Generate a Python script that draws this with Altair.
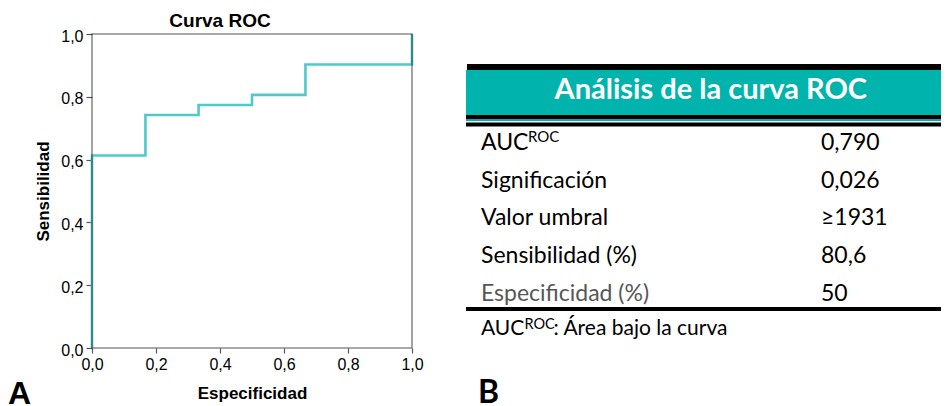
import altair as alt
import pandas as pd

# ---------------- data ----------------
roc_x = [0.0, 0.0, 0.167, 0.167, 0.333, 0.333, 0.5, 0.5, 0.667, 0.667, 1.0, 1.0]
roc_y = [0.0, 0.613, 0.613, 0.742, 0.742, 0.774, 0.774, 0.806, 0.806, 0.903, 0.903, 1.0]
tick_values = [0.0, 0.2, 0.4, 0.6, 0.8, 1.0]

chart_title = "Curva ROC"
table_title = "Análisis de la curva ROC"
row_labels = ["AUC", "Significación", "Valor umbral", "Sensibilidad (%)", "Especificidad (%)"]
row_values = ["0,790", "0,026", "≥1931", "80,6", "50"]
footnote = ": Área bajo la curva"
panel_labels = ["A", "B"]

# ---------------- left panel: ROC ----------------
W, H = 320, 314
ARIAL = "Liberation Sans"
FONT = "Lato"

roc = pd.DataFrame({"x": roc_x, "y": roc_y, "i": list(range(len(roc_x)))})
one = pd.DataFrame({"k": [0]})

xsc = alt.Scale(domain=[0, 1], nice=False, zero=False)
ysc = alt.Scale(domain=[0, 1], nice=False, zero=False)
lab = "replace(format(datum.value, '.1f'), '.', ',')"

line = alt.Chart(roc).mark_line(color="#52C9C9", strokeWidth=2.6, interpolate="linear").encode(
    x=alt.X("x:Q", scale=xsc, title="Especificidad",
            axis=alt.Axis(values=tick_values, labelExpr=lab, grid=False, domain=False,
                          labelFlush=False,
                          tickSize=5, tickColor="#555", tickWidth=1.2,
                          labelFont=ARIAL, labelFontSize=16, labelColor="black", labelPadding=3,
                          titleFont=ARIAL, titleFontSize=17, titleFontWeight="bold",
                          titleColor="black", titlePadding=13)),
    y=alt.Y("y:Q", scale=ysc, title="Sensibilidad",
            axis=alt.Axis(values=tick_values, labelExpr=lab, grid=False, domain=False,
                          labelFlush=False, labelOffset=2,
                          tickSize=6, tickColor="#555", tickWidth=1.2,
                          labelFont=ARIAL, labelFontSize=16, labelColor="black", labelPadding=3,
                          titleFont=ARIAL, titleFontSize=17, titleFontWeight="bold",
                          titleColor="black", titlePadding=8)),
    order="i:Q",
)

frame = alt.Chart(one).mark_rect(fillOpacity=0, stroke="#1a1a1a", strokeOpacity=0.5,
                                 strokeWidth=1.6).encode(
    x=alt.XDatum(0, scale=xsc), x2=alt.X2Datum(1),
    y=alt.YDatum(0, scale=ysc), y2=alt.Y2Datum(1),
)

title_txt = alt.Chart(one).mark_text(text=chart_title, font=ARIAL, fontSize=19, fontWeight="bold",
                                     align="center", baseline="alphabetic", color="black").encode(
    x=alt.value(128), y=alt.value(-7),
)

label_a = alt.Chart(one).mark_text(text=panel_labels[0], font=ARIAL, fontSize=32, fontWeight="bold",
                                   align="left", baseline="alphabetic", color="black").encode(
    x=alt.value(-84), y=alt.value(370),
)

left = alt.layer(line, frame, title_txt, label_a).properties(width=W, height=H)

# ---------------- right panel: table ----------------
TW = 475
tx = alt.Scale(domain=[0, TW], nice=False, zero=False)
ty = alt.Scale(domain=[-3.077, 5.252], nice=False, zero=False, reverse=True)


def band(y0, y1, color, x0=0, x1=TW):
    return alt.Chart(one).mark_rect(color=color).encode(
        x=alt.XDatum(x0, scale=tx, axis=None), x2=alt.X2Datum(x1),
        y=alt.YDatum(y0, scale=ty, axis=None), y2=alt.Y2Datum(y1),
    )


def txt(s, x, y, size=23, weight="normal", color="black", align="left"):
    return alt.Chart(one).mark_text(text=s, font=FONT, fontSize=size, fontWeight=weight,
                                    color=color, align=align, baseline="alphabetic").encode(
        x=alt.XDatum(x, scale=tx, axis=None), y=alt.YDatum(y, scale=ty, axis=None),
    )


rows = pd.DataFrame({
    "r": list(range(len(row_labels))),
    "label": row_labels,
    "value": row_values,
    "c": ["black", "black", "black", "black", "#575757"],
})

row_lab = alt.Chart(rows).mark_text(font=FONT, fontSize=23, align="left", baseline="alphabetic").encode(
    x=alt.XDatum(15, scale=tx, axis=None),
    y=alt.Y("r:Q", scale=ty, axis=None),
    text="label:N",
    color=alt.Color("c:N", scale=None),
)
row_val = alt.Chart(rows).mark_text(font=FONT, fontSize=23, align="left", baseline="alphabetic",
                                    color="black").encode(
    x=alt.XDatum(355, scale=tx, axis=None),
    y=alt.Y("r:Q", scale=ty, axis=None),
    text="value:N",
)

right = alt.layer(
    band(-2.284, -2.122, "black", x0=1),
    band(-2.122, -0.928, "#00B3AC"),
    band(-0.928, -0.822, "black"),
    band(-0.822, -0.769, "#00B3AC"),
    band(-0.729, -0.623, "black"),
    band(4.164, 4.271, "black"),
    txt(table_title, 244.8, -1.345, size=29, weight="bold", color="white", align="center"),
    row_lab,
    row_val,
    txt("ROC", 62, -0.204, size=15),
    txt("AUC", 15, 4.907, size=21),
    txt("ROC", 58.5, 4.753, size=14.5),
    txt(footnote, 87.5, 4.907, size=21),
    alt.Chart(one).mark_text(text=panel_labels[1], font=FONT, fontSize=32, fontWeight="bold",
                             align="left", baseline="alphabetic", color="black").encode(
        x=alt.value(12), y=alt.value(369),
    ),
).properties(width=TW, height=H)

chart = alt.hconcat(left, right, spacing=54, bounds="flush").properties(
    padding={"left": 0, "top": 4, "right": 0, "bottom": 0}
).configure_view(stroke=None)

chart.save("out.html", embed_options={"renderer": "svg", "actions": False})
